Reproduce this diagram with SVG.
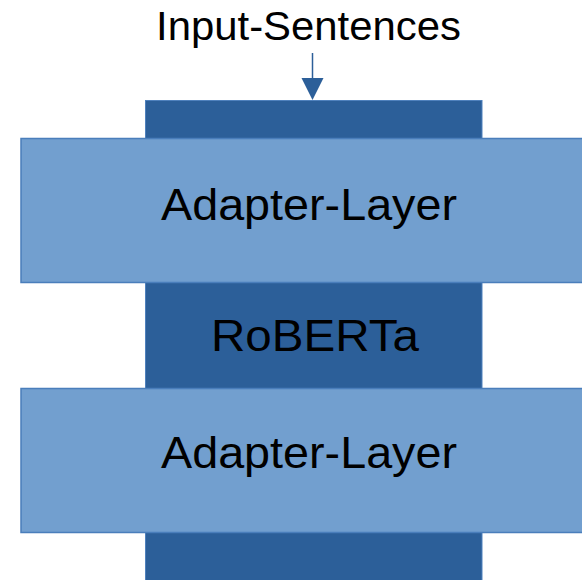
<svg xmlns="http://www.w3.org/2000/svg" width="582" height="580" viewBox="0 0 582 580">
  <defs>
    <style>
      .core { fill: #2c5f99; stroke: #4f81bd; stroke-width: 1; }
      .adapter { fill: #729fcf; stroke: #4a7ebb; stroke-width: 1.5; }
      .label { font-family: "Liberation Sans", Arial, sans-serif; font-size: 45px; fill: #000; text-anchor: middle; }
      .title { font-family: "Liberation Sans", Arial, sans-serif; font-size: 41.5px; fill: #000; text-anchor: middle; }
      .flow { stroke: #2c5f99; stroke-width: 1.5; fill: none; }
      .head { fill: #2c5f99; }
    </style>
  </defs>

  <!-- RoBERTa backbone running the full height -->
  <g id="roberta">
    <rect class="core" x="145.5" y="100.5" width="336.5" height="490"/>
    <text class="label" x="315" y="351" textLength="208" lengthAdjust="spacingAndGlyphs">RoBERTa</text>
  </g>

  <!-- adapter layers wrapped around the backbone -->
  <g id="adapter-top">
    <rect class="adapter" x="21" y="138.5" width="570" height="144"/>
    <text class="label" x="309" y="220" textLength="296" lengthAdjust="spacingAndGlyphs">Adapter-Layer</text>
  </g>
  <g id="adapter-bottom">
    <rect class="adapter" x="21" y="388.5" width="570" height="144"/>
    <text class="label" x="309" y="468" textLength="296" lengthAdjust="spacingAndGlyphs">Adapter-Layer</text>
  </g>

  <g id="input">
    <text class="title" x="308.5" y="40" textLength="305" lengthAdjust="spacingAndGlyphs">Input-Sentences</text>
  </g>

  <g id="connectors">
    <line class="flow" x1="312.5" y1="53" x2="312.5" y2="80"/>
    <path class="head" d="M301.5,78 L323.5,78 L312.5,100 Z"/>
  </g>
</svg>
